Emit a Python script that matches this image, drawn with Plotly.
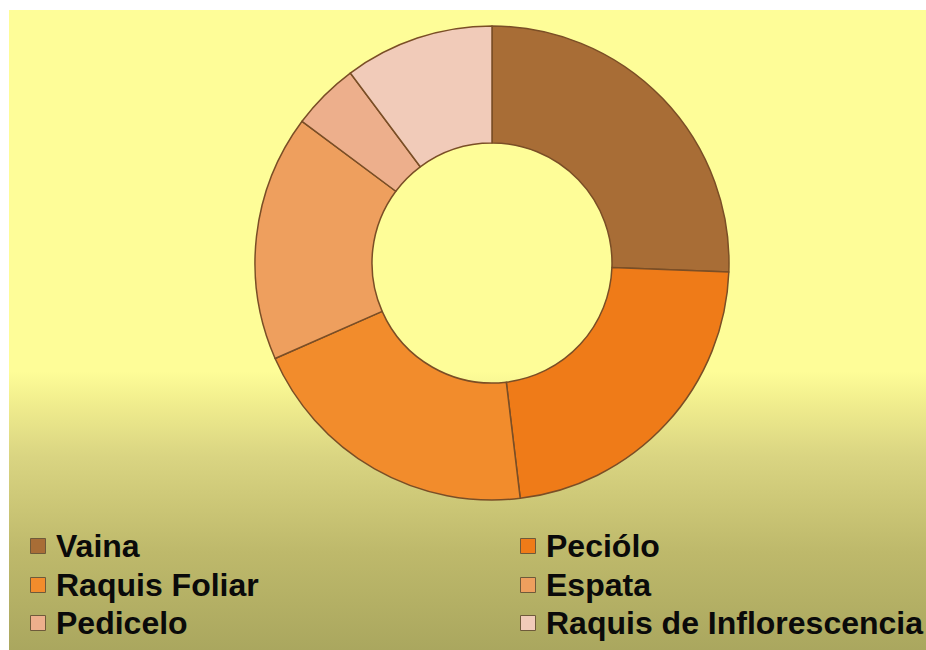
import plotly.graph_objects as go

# Composición por parte de la planta (%)
partes = ["Vaina", "Peciólo", "Raquis Foliar", "Espata", "Pedicelo",
          "Raquis de Inflorescencia"]
porcentajes = [25.6, 22.5, 20.3, 16.8, 4.6, 10.2]
colores = ["#A86D36", "#EF7B18", "#F28C2C", "#EE9F5E", "#EDAF8C", "#F1CBB9"]

W, H = 926, 650
CX, CY = 492, 387        # centro del anillo (px, y hacia arriba)
R_EXT, R_INT = 237, 120  # radios exterior e interior (px)

fig = go.Figure()

# Fondo amarillo con degradado hacia oliva en la parte inferior
fig.add_trace(go.Scatter(
    x=[9, W + 5, W + 5, 9, 9], y=[-5, -5, H - 10, H - 10, -5],
    mode="lines", line=dict(width=0), fill="toself",
    fillgradient=dict(
        type="vertical",
        colorscale=[[0.0, "#A9A65E"], [0.16, "#BEB96B"], [0.31, "#DAD582"],
                    [0.40, "#F3F08F"], [0.44, "#FEFD98"], [1.0, "#FEFD98"]],
    ),
    hoverinfo="skip", showlegend=False,
))

# Anillo
fig.add_trace(go.Pie(
    labels=partes, values=porcentajes,
    hole=R_INT / R_EXT, sort=False, direction="clockwise", rotation=0,
    marker=dict(colors=colores, line=dict(color="#7A4E26", width=1.5)),
    textinfo="none", hoverinfo="label+percent", showlegend=False,
    domain=dict(x=[(CX - R_EXT) / W, (CX + R_EXT) / W],
                y=[(CY - R_EXT) / H, (CY + R_EXT) / H]),
))

# Leyenda en dos columnas debajo del anillo
col_x = [38, 528]        # centro del cuadro de color
texto_dx = 16            # separación entre cuadro y etiqueta
fila_y = [H - 546, H - 585, H - 623]

ley_x = [col_x[i % 2] for i in range(len(partes))]
ley_y = [fila_y[i // 2] for i in range(len(partes))]

fig.add_trace(go.Scatter(
    x=ley_x, y=ley_y, mode="markers",
    marker=dict(symbol="square", size=15, color=colores,
                line=dict(color="#6E5A3A", width=1)),
    hoverinfo="skip", showlegend=False,
))

for nombre, xx, yy in zip(partes, ley_x, ley_y):
    fig.add_annotation(
        x=xx + texto_dx, y=yy, xref="x", yref="y",
        text=nombre, showarrow=False, xanchor="left", yanchor="middle",
        font=dict(family="Liberation Sans, Arial, sans-serif", size=32,
                  color="#0A0A0A", weight="bold"),
    )

# Marco blanco superior e izquierdo; el papel toma el tono oliva inferior
fig.add_shape(type="rect", xref="paper", yref="paper", x0=0, x1=1,
              y0=(H - 10) / H, y1=1, fillcolor="white", line_width=0,
              layer="below")
fig.add_shape(type="rect", xref="paper", yref="paper", x0=0, x1=9 / W,
              y0=0, y1=1, fillcolor="white", line_width=0, layer="below")

fig.update_layout(
    width=W, height=H,
    margin=dict(l=0, r=0, t=0, b=0, autoexpand=False),
    paper_bgcolor="#A9A65E", plot_bgcolor="rgba(0,0,0,0)",
    xaxis=dict(range=[0, W], domain=[0, 1], visible=False, fixedrange=True),
    yaxis=dict(range=[0, H], domain=[0, 1], visible=False, fixedrange=True),
    showlegend=False,
)

fig.write_html("out.html")
